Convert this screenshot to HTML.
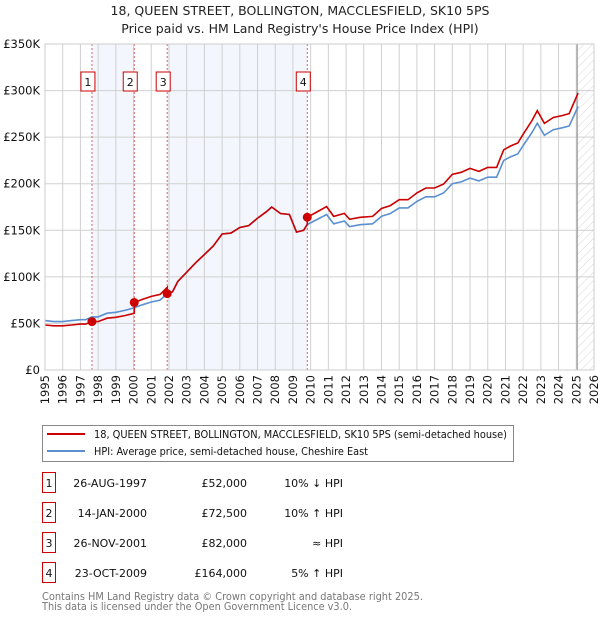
<!DOCTYPE html>
<html><head><meta charset="utf-8">
<style>
body{margin:0;background:#fff;font-family:"DejaVu Sans","Liberation Sans",sans-serif;}
svg text{font-family:"DejaVu Sans","Liberation Sans",sans-serif;}
</style></head>
<body>
<svg id="chart" width="600" height="620" viewBox="0 0 600 620" xmlns="http://www.w3.org/2000/svg">
<defs>
<pattern id="hatch" width="6" height="6" patternUnits="userSpaceOnUse" patternTransform="rotate(45)">
<line x1="0" y1="0" x2="0" y2="6" stroke="#ccc" stroke-width="0.8"/>
</pattern>
</defs>
<text x="300" y="15" text-anchor="middle" font-size="12.5" fill="#222">18, QUEEN STREET, BOLLINGTON, MACCLESFIELD, SK10 5PS</text>
<text x="300" y="33" text-anchor="middle" font-size="12.5" fill="#222">Price paid vs. HM Land Registry's House Price Index (HPI)</text>
<g id="plot"></g>
<g id="legend">
<rect x="42.5" y="425.5" width="471" height="36" fill="#fff" stroke="#888"/>
<line x1="47" y1="434" x2="85" y2="434" stroke="#cc0000" stroke-width="2"/>
<text x="94" y="438" font-size="10.5" fill="#111" textLength="413" lengthAdjust="spacingAndGlyphs">18, QUEEN STREET, BOLLINGTON, MACCLESFIELD, SK10 5PS (semi-detached house)</text>
<line x1="47" y1="451" x2="85" y2="451" stroke="#5b8fd0" stroke-width="2"/>
<text x="94" y="455" font-size="10.5" fill="#111" textLength="274" lengthAdjust="spacingAndGlyphs">HPI: Average price, semi-detached house, Cheshire East</text>
</g>
<g id="table"></g>
<text x="42" y="600" font-size="11" fill="#777" textLength="381" lengthAdjust="spacingAndGlyphs">Contains HM Land Registry data © Crown copyright and database right 2025.</text>
<text x="42" y="610" font-size="11" fill="#777" textLength="310" lengthAdjust="spacingAndGlyphs">This data is licensed under the Open Government Licence v3.0.</text>
</svg>
<script>
const hpiYears=[1995.0,1995.5,1996.0,1996.5,1997.0,1997.3,1997.65,1998.0,1998.5,1999.0,1999.5,1999.9,2000.04,2000.5,2001.0,2001.5,2001.9,2002.2,2002.5,2003.0,2003.5,2004.0,2004.5,2005.0,2005.5,2006.0,2006.5,2007.0,2007.5,2007.8,2008.3,2008.8,2009.2,2009.6,2009.8,2010.3,2010.9,2011.3,2011.9,2012.2,2012.8,2013.5,2014.0,2014.5,2015.0,2015.5,2016.0,2016.5,2017.0,2017.5,2018.0,2018.5,2019.0,2019.5,2020.0,2020.5,2020.9,2021.3,2021.7,2022.0,2022.5,2022.8,2023.2,2023.7,2024.2,2024.6,2025.1];
const hpiValues=[53,52,52,53,54,54,57,57,61,62,64,66,67,70,73,75,82,84,95,105,115,124,133,146,147,153,155,163,170,175,168,167,148,150,156,161,167,157,160,154,156,157,165,168,174,174,181,186,186,190,200,202,206,203,207,207,225,229,232,241,255,265,252,258,260,262,283];
const saleYears=[1997.65,2000.04,2001.9,2009.81];
const salePrices=[52,72.5,82,164];
const saleLabels=["1","2","3","4"];
const saleDates=["26-AUG-1997","14-JAN-2000","26-NOV-2001","23-OCT-2009"];
const salePriceText=["£52,000","£72,500","£82,000","£164,000"];
const saleRel=["10% ↓ HPI","10% ↑ HPI","≈ HPI","5% ↑ HPI"];
const yTicks=[0,50,100,150,200,250,300,350];
const yTickLabels=["£0","£50K","£100K","£150K","£200K","£250K","£300K","£350K"];
const xStart=1995,xEnd=2026;

const NS="http://www.w3.org/2000/svg";
const L=45,R=594,T=44,B=370,YMAX=350;
function xs(t){return L+(t-xStart)/(xEnd-xStart)*(R-L);}
function ys(v){return B-v/YMAX*(B-T);}
function mk(tag,attrs,parent){const e=document.createElementNS(NS,tag);for(const k in attrs)e.setAttribute(k,attrs[k]);parent.appendChild(e);return e;}
function hpiAt(t){for(let i=1;i<hpiYears.length;i++){if(t<=hpiYears[i]){const a=hpiYears[i-1],b=hpiYears[i];return hpiValues[i-1]+(hpiValues[i]-hpiValues[i-1])*(t-a)/(b-a);}}return hpiValues[hpiValues.length-1];}
const plot=document.getElementById('plot');
for(let k=0;k<saleYears.length-1;k+=2){
 const r=mk('rect',{x:xs(saleYears[k]),y:T,width:xs(saleYears[k+1])-xs(saleYears[k]),height:B-T,fill:'#f3f6fd'},plot);
 
 
}
const hx=xs(2025.05);
const hr=mk('rect',{x:hx,y:T,width:R-hx,height:B-T,fill:'url(#hatch)'},plot);


for(let y=xStart;y<=xEnd;y++){
 const g=mk('line',{x1:xs(y),x2:xs(y),y1:T,y2:B,stroke:'#d0d0d0','stroke-width':1},plot);
 
 
 const tx=mk('text',{x:0,y:0,'font-size':11.5,fill:'#111','text-anchor':'end',transform:`translate(${xs(y)+4},375) rotate(-90)`},plot);
 tx.textContent=y;
 
 
}
yTicks.forEach((v,i)=>{
 const g=mk('line',{x1:L,x2:R,y1:ys(v),y2:ys(v),stroke:'#d0d0d0','stroke-width':1},plot);
 
 
 const tx=mk('text',{x:40,y:ys(v)+4,'font-size':11.5,fill:'#111','text-anchor':'end'},plot);
 tx.textContent=yTickLabels[i];
 
 
});
const el=mk('line',{x1:hx,x2:hx,y1:T,y2:B,stroke:'#999','stroke-width':1.2},plot);


saleYears.forEach((t,i)=>{
 const l=mk('line',{x1:xs(t),x2:xs(t),y1:T,y2:B,stroke:'#e06060','stroke-width':1,'stroke-dasharray':'2,2'},plot);
 
 
});
let d='';hpiYears.forEach((t,i)=>{d+=(i?'L':'M')+xs(t).toFixed(1)+','+ys(hpiValues[i]).toFixed(1);});
const hp=mk('path',{d:d,fill:'none',stroke:'#5b8fd0','stroke-width':1.6},plot);


const ratios=saleYears.map((t,i)=>salePrices[i]/hpiAt(t));
function ratioAt(t){let r=ratios[0];for(let i=0;i<saleYears.length;i++){if(t>=saleYears[i])r=ratios[i];}return r;}
const pts=hpiYears.concat(saleYears).sort((a,b)=>a-b);
let pd='';pts.forEach((t,i)=>{
 const si=saleYears.indexOf(t);
 if(si>0){pd+='L'+xs(t).toFixed(1)+','+ys(hpiAt(t)*ratios[si-1]).toFixed(1);}
 pd+=(i?'L':'M')+xs(t).toFixed(1)+','+ys(hpiAt(t)*ratioAt(t)).toFixed(1);
});
const pp=mk('path',{d:pd,fill:'none',stroke:'#cc0000','stroke-width':1.6},plot);


saleYears.forEach((t,i)=>{
 const c=mk('circle',{cx:xs(t),cy:ys(salePrices[i]),r:4.5,fill:'#cc0000'},plot);
 
 
 const g=mk('g',{},plot);
 
 
 mk('rect',{x:xs(t)-11,y:72,width:14,height:19,fill:'#fff',stroke:'#cc0000'},g);
 const tx=mk('text',{x:xs(t)-4,y:86,'font-size':11,fill:'#111','text-anchor':'middle'},g);
 tx.textContent=saleLabels[i];
});
const bx=mk('rect',{x:L,y:T,width:R-L,height:B-T,fill:'none',stroke:'#ccc'},plot);


const tb=document.getElementById('table');
saleLabels.forEach((lab,i)=>{
 const cy=483+i*30;
 const g=mk('g',{},tb);
 
 
 mk('rect',{x:42.5,y:cy-10.5,width:13,height:20,fill:'#fff',stroke:'#cc0000'},g);
 const a=mk('text',{x:49,y:cy+4,'font-size':11,'text-anchor':'middle',fill:'#111'},g);a.textContent=lab;
 const b=mk('text',{x:147,y:cy+4,'font-size':11,'text-anchor':'end',fill:'#111'},g);b.textContent=saleDates[i];
 const c=mk('text',{x:247,y:cy+4,'font-size':11,'text-anchor':'end',fill:'#111'},g);c.textContent=salePriceText[i];
 const e=mk('text',{x:343,y:cy+4,'font-size':11,'text-anchor':'end',fill:'#111'},g);e.textContent=saleRel[i];
});
</script>
</body></html>
